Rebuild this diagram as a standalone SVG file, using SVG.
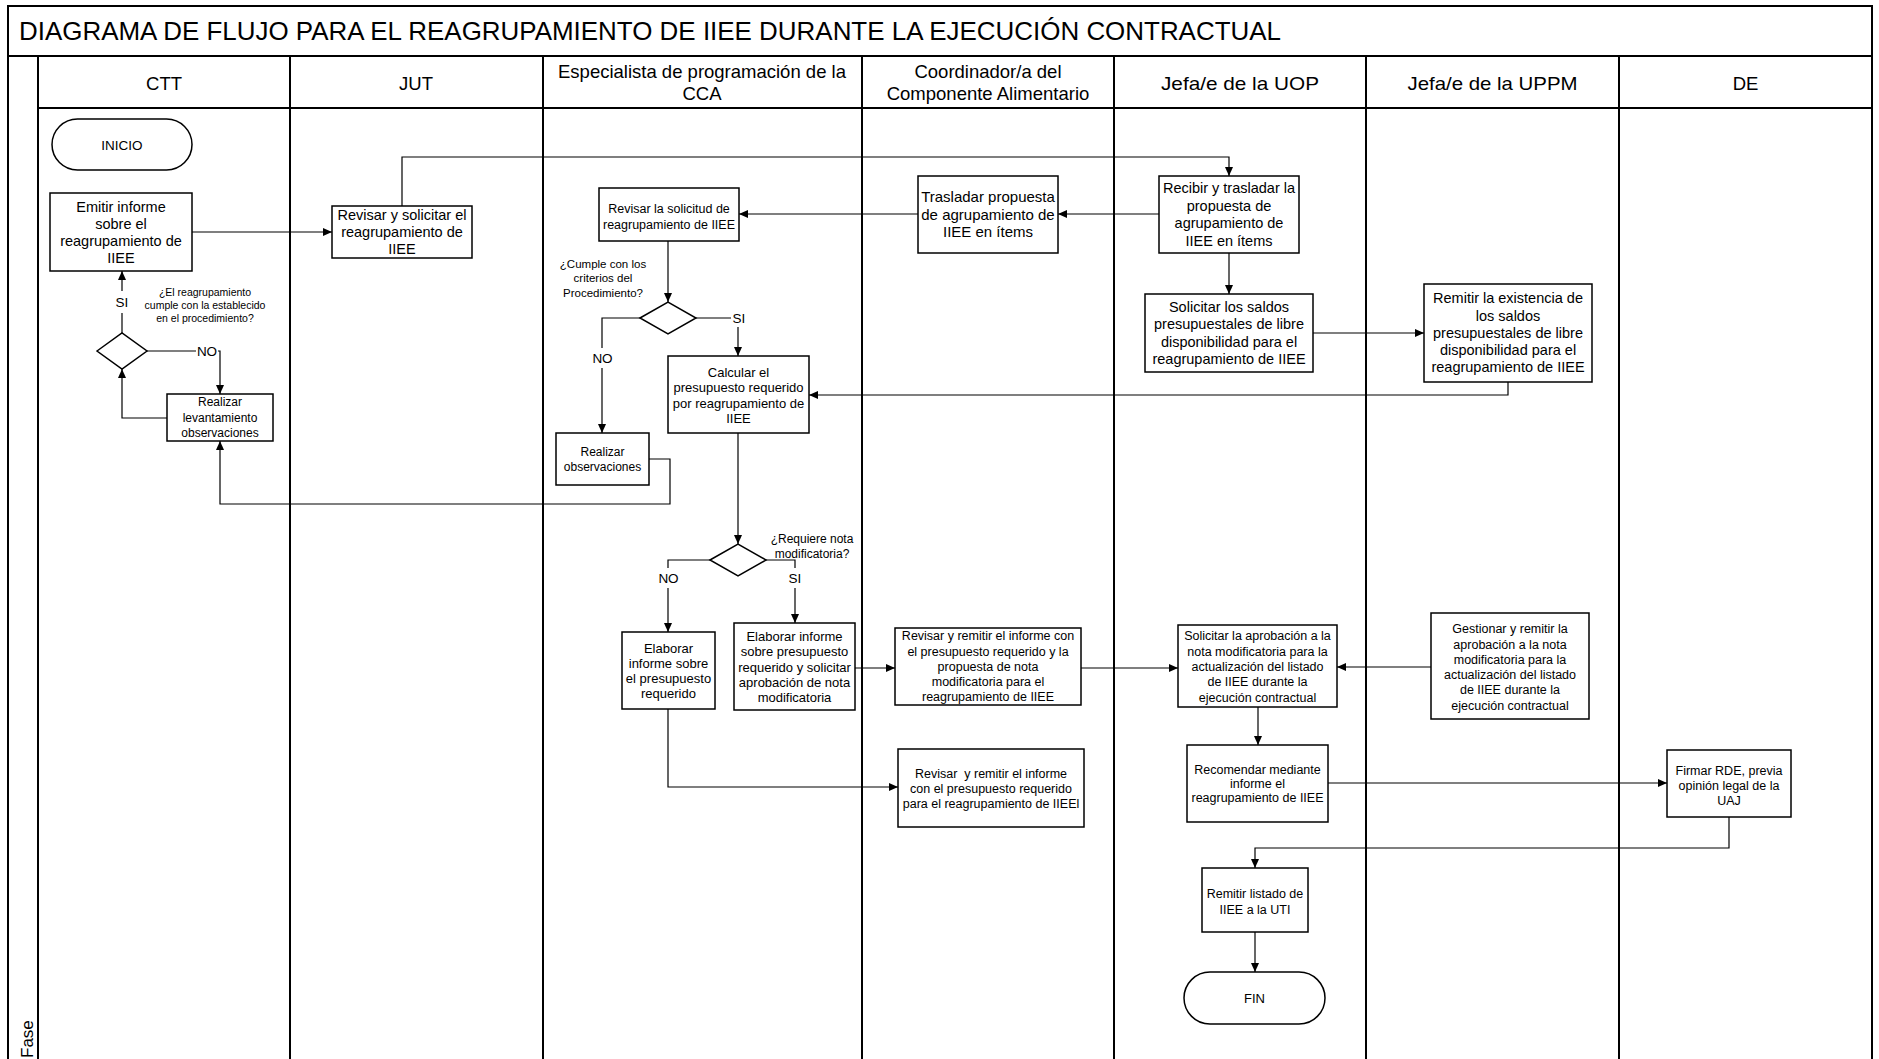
<svg xmlns="http://www.w3.org/2000/svg" width="1879" height="1059" viewBox="0 0 1879 1059">
<style>
text { font-family: "Liberation Sans", Arial, sans-serif; fill: #000; }
.c { text-anchor: middle; }
.frame { stroke: #000; stroke-width: 2; fill: none; }
.box { fill: #fff; stroke: #000; stroke-width: 1.5; }
.conn { fill: none; stroke: #000; stroke-width: 1.2; }
.arr { marker-end: url(#ah); }
.hdr { font-size: 18.5px; }
.lbl { font-size: 13.5px; }
</style>
<defs>
<marker id="ah" viewBox="0 0 9 8" refX="9" refY="4" markerWidth="9" markerHeight="8" markerUnits="userSpaceOnUse" orient="auto">
<path d="M0,0 L9,4 L0,8 Z" fill="#000"/>
</marker>
</defs>
<rect width="1879" height="1059" fill="#fff"/>

<g id="frame">
<path class="frame" d="M8,1059 V6 H1872 V1059"/>
<path class="frame" d="M8,56 H1872"/>
<path class="frame" d="M38,108 H1872"/>
<path class="frame" d="M38,56 V1059 M290,56 V1059 M543,56 V1059 M862,56 V1059 M1114,56 V1059 M1366,56 V1059 M1619,56 V1059"/>
<text x="19" y="39.5" font-size="25.5" textLength="1262" lengthAdjust="spacingAndGlyphs">DIAGRAMA DE FLUJO PARA EL REAGRUPAMIENTO DE IIEE DURANTE LA EJECUCIÓN CONTRACTUAL</text>
<text class="hdr c" x="164" y="89.5">CTT</text>
<text class="hdr c" x="416" y="89.5">JUT</text>
<text class="hdr c" x="702"><tspan x="702" y="77.5">Especialista de programación de la</tspan><tspan x="702" y="99.5">CCA</tspan></text>
<text class="hdr c" x="988"><tspan x="988" y="77.5">Coordinador/a del</tspan><tspan x="988" y="99.5">Componente Alimentario</tspan></text>
<text class="hdr c" x="1240" y="89.5" textLength="158" lengthAdjust="spacingAndGlyphs">Jefa/e de la UOP</text>
<text class="hdr c" x="1492.5" y="89.5" textLength="170" lengthAdjust="spacingAndGlyphs">Jefa/e de la UPPM</text>
<text class="hdr c" x="1745.5" y="89.5">DE</text>
<text font-size="17" transform="translate(33,1058) rotate(-90)">Fase</text>
</g>

<g id="connectors">
<path class="conn arr" d="M192,232 H332"/>
<path class="conn arr" d="M402,206 V157 H1229 V176"/>
<path class="conn arr" d="M1159,214 H1058"/>
<path class="conn arr" d="M918,214 H739"/>
<path class="conn arr" d="M1229,253 V294"/>
<path class="conn arr" d="M1313,333 H1424"/>
<path class="conn arr" d="M1508,382 V395 H809"/>
<path class="conn arr" d="M668,241 V302"/>
<path class="conn" d="M640,318 H602 V348"/>
<text class="lbl c" x="602.5" y="363">NO</text>
<path class="conn arr" d="M602,368 V433"/>
<path class="conn" d="M696,318 H731"/>
<text class="lbl c" x="739" y="323">SI</text>
<path class="conn arr" d="M738,327 V356"/>
<path class="conn arr" d="M649,459 H670 V504 H220 V441"/>
<path class="conn" d="M122,333 V313"/>
<text class="lbl c" x="122" y="307">SI</text>
<path class="conn arr" d="M122,291 V271"/>
<path class="conn" d="M147,351 H196"/>
<text class="lbl c" x="207" y="356">NO</text>
<path class="conn arr" d="M218,351 H220 V394"/>
<path class="conn arr" d="M167,418 H122 V369"/>
<path class="conn arr" d="M738,433 V544"/>
<path class="conn" d="M710,560 H668 V568"/>
<text class="lbl c" x="668.5" y="582.5">NO</text>
<path class="conn arr" d="M668,588 V632"/>
<path class="conn" d="M766,560 H795 V568"/>
<text class="lbl c" x="795" y="583">SI</text>
<path class="conn arr" d="M795,588 V623"/>
<path class="conn arr" d="M855,668 H895"/>
<path class="conn arr" d="M668,709 V787 H898"/>
<path class="conn arr" d="M1081,668 H1178"/>
<path class="conn arr" d="M1431,667 H1337"/>
<path class="conn arr" d="M1258,707 V745"/>
<path class="conn arr" d="M1328,783 H1667"/>
<path class="conn arr" d="M1729,817 V848 H1255 V868"/>
<path class="conn arr" d="M1255,932 V972"/>
</g>

<g id="n_inicio">
<rect class="box" x="52" y="119" width="140" height="51" rx="25.5"/>
<text class="c" x="122" y="149.5" font-size="13.5">INICIO</text>
</g>

<g id="n_emitir">
<rect class="box" x="50" y="193" width="142" height="78"/>
<text class="c" font-size="14.5"><tspan x="121" y="212">Emitir informe</tspan><tspan x="121" y="229">sobre el</tspan><tspan x="121" y="246">reagrupamiento de</tspan><tspan x="121" y="263">IIEE</tspan></text>
</g>

<g id="n_dec_ctt">
<polygon class="box" points="97,351 122,333 147,351 122,369"/>
<text class="c" font-size="10.5"><tspan x="205" y="296">¿El reagrupamiento</tspan><tspan x="205" y="309">cumple con la establecido</tspan><tspan x="205" y="322">en el procedimiento?</tspan></text>
</g>

<g id="n_levantamiento">
<rect class="box" x="167" y="394" width="106" height="47"/>
<text class="c" font-size="12"><tspan x="220" y="406">Realizar</tspan><tspan x="220" y="422">levantamiento</tspan><tspan x="220" y="437">observaciones</tspan></text>
</g>

<g id="n_revisar_jut">
<rect class="box" x="332" y="206" width="140" height="52"/>
<text class="c" font-size="14.5"><tspan x="402" y="220">Revisar y solicitar el</tspan><tspan x="402" y="237">reagrupamiento de</tspan><tspan x="402" y="254">IIEE</tspan></text>
</g>

<g id="n_revisar_solicitud">
<rect class="box" x="599" y="188" width="140" height="53"/>
<text class="c" font-size="12.5"><tspan x="669" y="212.5">Revisar la solicitud de</tspan><tspan x="669" y="228.5">reagrupamiento de IIEE</tspan></text>
</g>

<g id="n_dec_cumple">
<polygon class="box" points="640,318 668,302 696,318 668,334"/>
<text class="c" font-size="11.5"><tspan x="603" y="268">¿Cumple con los</tspan><tspan x="603" y="282">criterios del</tspan><tspan x="603" y="297">Procedimiento?</tspan></text>
</g>

<g id="n_realizar_obs">
<rect class="box" x="556" y="433" width="93" height="52"/>
<text class="c" font-size="12"><tspan x="602.5" y="456">Realizar</tspan><tspan x="602.5" y="471">observaciones</tspan></text>
</g>

<g id="n_calcular">
<rect class="box" x="668" y="356" width="141" height="77"/>
<text class="c" font-size="13"><tspan x="738.5" y="376.5">Calcular el</tspan><tspan x="738.5" y="392">presupuesto requerido</tspan><tspan x="738.5" y="407.5">por reagrupamiento de</tspan><tspan x="738.5" y="423">IIEE</tspan></text>
</g>

<g id="n_dec_nota">
<polygon class="box" points="710,560 738,544 766,560 738,576"/>
<text class="c" font-size="12"><tspan x="812" y="543">¿Requiere nota</tspan><tspan x="812" y="558">modificatoria?</tspan></text>
</g>

<g id="n_elaborar_informe">
<rect class="box" x="622" y="632" width="93" height="77"/>
<text class="c" font-size="13"><tspan x="668.5" y="652.5">Elaborar</tspan><tspan x="668.5" y="667.5">informe sobre</tspan><tspan x="668.5" y="683">el presupuesto</tspan><tspan x="668.5" y="698">requerido</tspan></text>
</g>

<g id="n_elaborar_nota">
<rect class="box" x="734" y="623" width="121" height="87"/>
<text class="c" font-size="13"><tspan x="794.5" y="640.5">Elaborar informe</tspan><tspan x="794.5" y="656">sobre presupuesto</tspan><tspan x="794.5" y="671.5">requerido y solicitar</tspan><tspan x="794.5" y="686.5">aprobación de nota</tspan><tspan x="794.5" y="701.5">modificatoria</tspan></text>
</g>

<g id="n_trasladar">
<rect class="box" x="918" y="176" width="140" height="77"/>
<text class="c" font-size="15"><tspan x="988" y="202">Trasladar propuesta</tspan><tspan x="988" y="219.5">de agrupamiento de</tspan><tspan x="988" y="236.5">IIEE en ítems</tspan></text>
</g>

<g id="n_revisar_remitir_nota">
<rect class="box" x="895" y="628" width="186" height="77"/>
<text class="c" font-size="12.5"><tspan x="988" y="639.5">Revisar y remitir el informe con</tspan><tspan x="988" y="655.5">el presupuesto requerido y la</tspan><tspan x="988" y="670.5">propuesta de nota</tspan><tspan x="988" y="685.5">modificatoria para el</tspan><tspan x="988" y="701">reagrupamiento de IIEE</tspan></text>
</g>

<g id="n_revisar_remitir_informe">
<rect class="box" x="898" y="749" width="186" height="78"/>
<text class="c" font-size="12.5"><tspan x="991" y="778">Revisar&#160; y remitir el informe</tspan><tspan x="991" y="792.5">con el presupuesto requerido</tspan><tspan x="991" y="807.5">para el reagrupamiento de IIEEl</tspan></text>
</g>

<g id="n_recibir">
<rect class="box" x="1159" y="176" width="140" height="77"/>
<text class="c" font-size="14.5"><tspan x="1229" y="193">Recibir y trasladar la</tspan><tspan x="1229" y="211">propuesta de</tspan><tspan x="1229" y="228">agrupamiento de</tspan><tspan x="1229" y="246">IIEE en ítems</tspan></text>
</g>

<g id="n_solicitar_saldos">
<rect class="box" x="1145" y="294" width="168" height="78"/>
<text class="c" font-size="14.5"><tspan x="1229" y="312">Solicitar los saldos</tspan><tspan x="1229" y="329">presupuestales de libre</tspan><tspan x="1229" y="347">disponibilidad para el</tspan><tspan x="1229" y="364">reagrupamiento de IIEE</tspan></text>
</g>

<g id="n_solicitar_aprobacion">
<rect class="box" x="1178" y="625" width="159" height="82"/>
<text class="c" font-size="12.5"><tspan x="1257.5" y="640">Solicitar la aprobación a la</tspan><tspan x="1257.5" y="656">nota modificatoria para la</tspan><tspan x="1257.5" y="671">actualización del listado</tspan><tspan x="1257.5" y="686">de IIEE durante la</tspan><tspan x="1257.5" y="702">ejecución contractual</tspan></text>
</g>

<g id="n_recomendar">
<rect class="box" x="1187" y="745" width="141" height="77"/>
<text class="c" font-size="12.5"><tspan x="1257.5" y="773.5">Recomendar mediante</tspan><tspan x="1257.5" y="787.5">informe el</tspan><tspan x="1257.5" y="802">reagrupamiento de IIEE</tspan></text>
</g>

<g id="n_remitir_listado">
<rect class="box" x="1202" y="868" width="106" height="64"/>
<text class="c" font-size="12.5"><tspan x="1255" y="897.5">Remitir listado de</tspan><tspan x="1255" y="913.5">IIEE a la UTI</tspan></text>
</g>

<g id="n_fin">
<rect class="box" x="1184" y="972" width="141" height="52" rx="26"/>
<text class="c" x="1254.5" y="1002.5" font-size="13">FIN</text>
</g>

<g id="n_remitir_saldos">
<rect class="box" x="1424" y="284" width="168" height="98"/>
<text class="c" font-size="14.5"><tspan x="1508" y="303">Remitir la existencia de</tspan><tspan x="1508" y="321">los saldos</tspan><tspan x="1508" y="338">presupuestales de libre</tspan><tspan x="1508" y="355">disponibilidad para el</tspan><tspan x="1508" y="372">reagrupamiento de IIEE</tspan></text>
</g>

<g id="n_gestionar">
<rect class="box" x="1431" y="613" width="158" height="106"/>
<text class="c" font-size="12.5"><tspan x="1510" y="633">Gestionar y remitir la</tspan><tspan x="1510" y="649">aprobación a la nota</tspan><tspan x="1510" y="664">modificatoria para la</tspan><tspan x="1510" y="679">actualización del listado</tspan><tspan x="1510" y="694">de IIEE durante la</tspan><tspan x="1510" y="710">ejecución contractual</tspan></text>
</g>

<g id="n_firmar">
<rect class="box" x="1667" y="750" width="124" height="67"/>
<text class="c" font-size="12.5"><tspan x="1729" y="774.5">Firmar RDE, previa</tspan><tspan x="1729" y="789.5">opinión legal de la</tspan><tspan x="1729" y="804.5">UAJ</tspan></text>
</g>
</svg>
